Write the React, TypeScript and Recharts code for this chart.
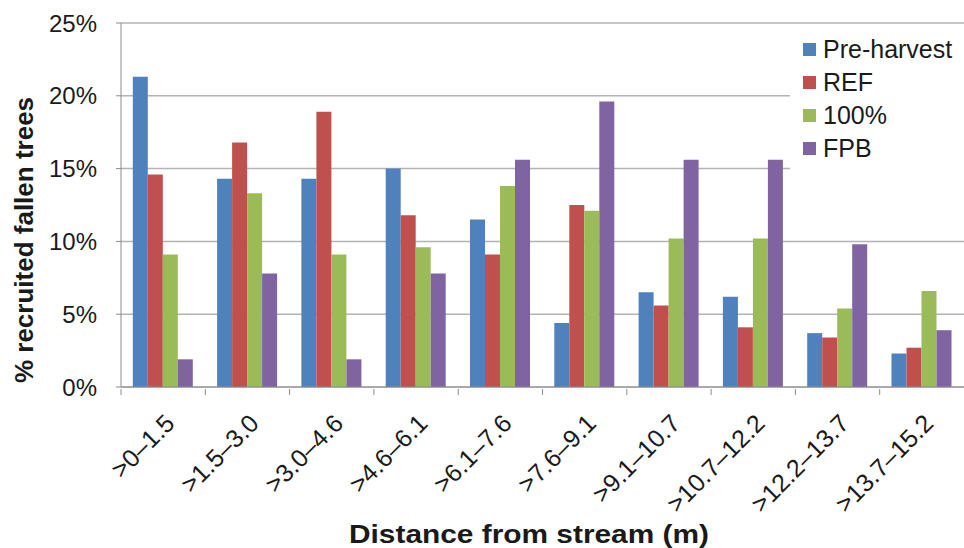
import { BarChart, Bar, XAxis, YAxis, CartesianGrid } from 'recharts'

const categories = ['>0–1.5', '>1.5–3.0', '>3.0–4.6', '>4.6–6.1', '>6.1–7.6', '>7.6–9.1', '>9.1–10.7', '>10.7–12.2', '>12.2–13.7', '>13.7–15.2']
const preHarvest = [21.3, 14.3, 14.3, 15.0, 11.5, 4.4, 6.5, 6.2, 3.7, 2.3]
const refValues = [14.6, 16.8, 18.9, 11.8, 9.1, 12.5, 5.6, 4.1, 3.4, 2.7]
const full = [9.1, 13.3, 9.1, 9.6, 13.8, 12.1, 10.2, 10.2, 5.4, 6.6]
const fpb = [1.9, 7.8, 1.9, 7.8, 15.6, 19.6, 15.6, 15.6, 9.8, 3.9]
const yTicks = [0, 5, 10, 15, 20, 25]

const series = [
  { key: 'pre', name: 'Pre-harvest', color: '#4F81BD' },
  { key: 'refSeries', name: 'REF', color: '#C0504D' },
  { key: 'full', name: '100%', color: '#9BBB59' },
  { key: 'fpb', name: 'FPB', color: '#8064A2' },
]

const data = categories.map((cat, i) => ({
  cat,
  pre: preHarvest[i],
  refSeries: refValues[i],
  full: full[i],
  fpb: fpb[i],
}))

const FONT = '"Liberation Sans", Arial, sans-serif'
const BAND = 843 / categories.length

function XTick({ x, y, payload }: any) {
  const ax = x + 13
  const ay = y + 36
  return (
    <g>
      <line x1={x - BAND / 2} x2={x - BAND / 2} y1={y} y2={y + 6} stroke="#8c8c8c" />
      <text
        x={ax}
        y={ay}
        transform={`rotate(-45 ${ax} ${ay})`}
        textAnchor="end"
        fontSize={25}
        fontFamily={FONT}
        fill="#1a1a1a"
      >
        {payload.value}
      </text>
    </g>
  )
}

// drawn as a plain overlay so it does not take room from the plot
function LegendBox() {
  return (
    <div
      style={{
        position: 'absolute',
        left: 790,
        top: 29,
        width: 174,
        background: '#fff',
        padding: '4px 0 6px 13px',
        boxSizing: 'border-box',
        fontFamily: FONT,
      }}
    >
      {series.map((s) => (
        <div key={s.key} style={{ display: 'flex', alignItems: 'center', height: 33 }}>
          <span style={{ width: 13, height: 13, background: s.color, marginRight: 7 }} />
          <span style={{ fontSize: 25, color: '#1a1a1a' }}>{s.name}</span>
        </div>
      ))}
    </div>
  )
}

export default function App() {
  return (
    <div style={{ position: 'absolute', left: 0, top: 0, width: 964, height: 548, background: '#fff' }}>
      <BarChart
        width={964}
        height={548}
        data={data}
        margin={{ top: 23, right: 0, left: 0, bottom: 0 }}
        barCategoryGap="14%"
        barGap={0}
      >
        <CartesianGrid vertical={false} stroke="#b4b4b4" strokeWidth={1.5} />
        <XAxis
          dataKey="cat"
          height={161}
          interval={0}
          tick={<XTick />}
          tickLine={false}
          tickSize={0}
          stroke="#8c8c8c"
          label={{
            content: () => (
              <text
                x={529}
                y={543}
                textAnchor="middle"
                fontSize={26}
                fontWeight="bold"
                fontFamily={FONT}
                fill="#1a1a1a"
                textLength={360}
                lengthAdjust="spacingAndGlyphs"
              >
                Distance from stream (m)
              </text>
            ),
          }}
        />
        <YAxis
          width={121}
          domain={[0, 25]}
          ticks={yTicks}
          tickFormatter={(v: number) => `${v}%`}
          tickSize={5}
          tickMargin={19}
          stroke="#8c8c8c"
          tick={{ fontSize: 24, fill: '#1a1a1a', fontFamily: FONT }}
          label={{
            content: () => (
              <text
                x={33}
                y={240}
                transform="rotate(-90 33 240)"
                textAnchor="middle"
                fontSize={26}
                fontWeight="bold"
                fontFamily={FONT}
                fill="#1a1a1a"
              >
                % recruited fallen trees
              </text>
            ),
          }}
        />
        {series.map((s) => (
          <Bar key={s.key} dataKey={s.key} name={s.name} fill={s.color} isAnimationActive={false} />
        ))}
      </BarChart>
      <LegendBox />
    </div>
  )
}
